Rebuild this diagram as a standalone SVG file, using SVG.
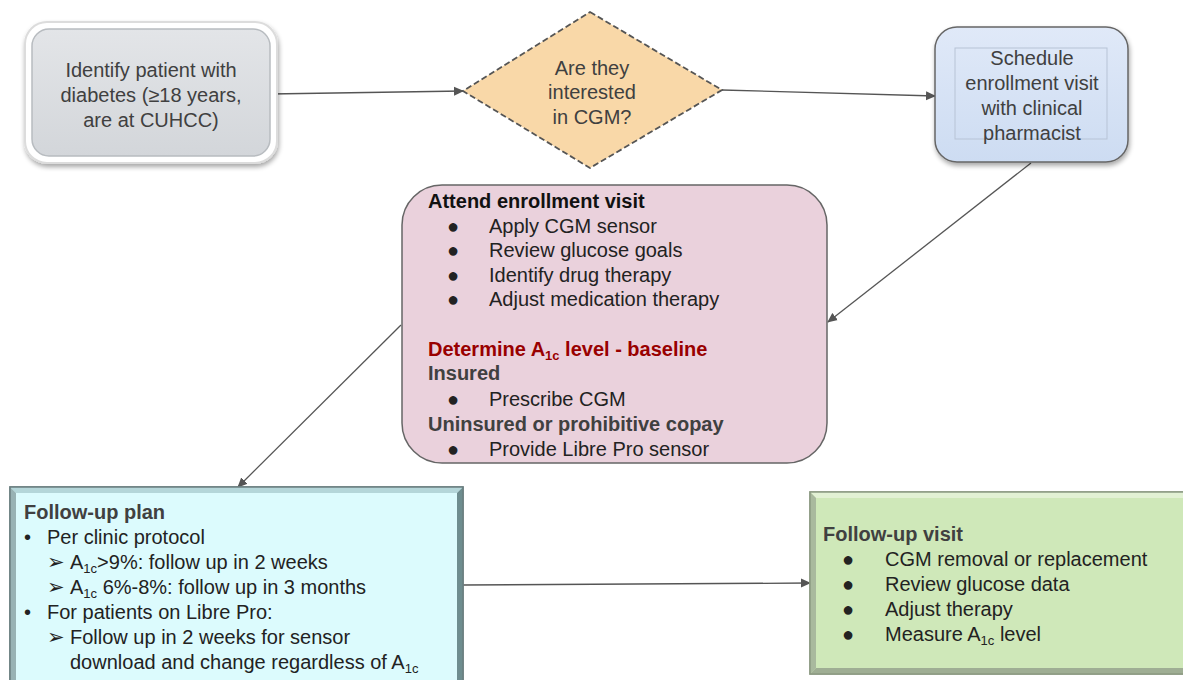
<svg xmlns="http://www.w3.org/2000/svg" width="1183" height="680" viewBox="0 0 1183 680">
<style>
  text { font-family: "Liberation Sans", Arial, "DejaVu Sans", sans-serif; font-size: 20px; fill: #404040; }
  .c { text-anchor: middle; }
  .b { font-weight: bold; }
  .k { fill: #111; }
  .d { fill: #222; }
  .red { fill: #990000; }
  .conn { stroke: #555; stroke-width: 1.3; fill: none; marker-end: url(#ah); }
  .sub { font-size: 13px; }
  .arr { font-size: 21px; }
</style>
<defs>
  <marker id="ah" markerWidth="10" markerHeight="10" refX="9" refY="5" orient="auto" markerUnits="userSpaceOnUse">
    <path d="M0,0.5 L10,5 L0,9.5 Z" fill="#555"/>
  </marker>
  <linearGradient id="gGray" x1="0" y1="0" x2="0" y2="1">
    <stop offset="0" stop-color="#e3e5e8"/>
    <stop offset="1" stop-color="#d3d6da"/>
  </linearGradient>
  <linearGradient id="gBlue" x1="0" y1="0" x2="0" y2="1">
    <stop offset="0" stop-color="#e0e9f8"/>
    <stop offset="1" stop-color="#cddcf2"/>
  </linearGradient>
  <filter id="sh" x="-10%" y="-10%" width="125%" height="130%">
    <feGaussianBlur in="SourceAlpha" stdDeviation="2.5"/>
    <feOffset dx="1" dy="3" result="o"/>
    <feComponentTransfer><feFuncA type="linear" slope="0.35"/></feComponentTransfer>
    <feMerge><feMergeNode/><feMergeNode in="SourceGraphic"/></feMerge>
  </filter>
</defs>
<rect width="1183" height="680" fill="#ffffff"/>

<g id="connectors">
  <line class="conn" x1="270" y1="94" x2="463" y2="91"/>
  <line class="conn" x1="722" y1="90" x2="935" y2="96"/>
  <line class="conn" x1="1031" y1="163" x2="828" y2="322"/>
  <line class="conn" x1="401" y1="325" x2="238" y2="487"/>
  <line class="conn" x1="463" y1="585" x2="810" y2="583"/>
</g>

<g id="node-identify">
  <rect x="25" y="22" width="252" height="141" rx="22" fill="#ffffff" stroke="#dcdcdc" stroke-width="2" filter="url(#sh)"/>
  <rect x="32" y="29" width="238" height="127" rx="17" fill="url(#gGray)" stroke="#b8bcc0" stroke-width="1.5"/>
  <text class="c" x="151" y="77">Identify patient with</text>
  <text class="c" x="151" y="102">diabetes (≥18 years,</text>
  <text class="c" x="151" y="127">are at CUHCC)</text>
</g>

<g id="node-interested">
  <polygon points="590,12 722,90 590,168 463,91" fill="#f9d8a8" stroke="#555" stroke-width="1.8" stroke-dasharray="6,3"/>
  <text class="c" x="592" y="75">Are they</text>
  <text class="c" x="592" y="99">interested</text>
  <text class="c" x="592" y="124">in CGM?</text>
</g>

<g id="node-schedule">
  <rect x="935" y="27" width="193" height="135" rx="22" fill="url(#gBlue)" stroke="#666" stroke-width="1.5" filter="url(#sh)"/>
  <rect x="955" y="48" width="152" height="91" fill="none" stroke="#b7c3d6" stroke-width="1"/>
  <text class="c" x="1032" y="65">Schedule</text>
  <text class="c" x="1032" y="90">enrollment visit</text>
  <text class="c" x="1032" y="115">with clinical</text>
  <text class="c" x="1032" y="140">pharmacist</text>
</g>

<g id="node-enrollment">
  <rect x="402" y="185" width="425" height="278" rx="40" fill="#ead1dc" stroke="#666" stroke-width="1.5"/>
  <text class="b k" x="428" y="208">Attend enrollment visit</text>
  <text class="d" x="447" y="233">●</text><text class="d" x="489" y="233">Apply CGM sensor</text>
  <text class="d" x="447" y="257">●</text><text class="d" x="489" y="257">Review glucose goals</text>
  <text class="d" x="447" y="282">●</text><text class="d" x="489" y="282">Identify drug therapy</text>
  <text class="d" x="447" y="306">●</text><text class="d" x="489" y="306">Adjust medication therapy</text>
  <text class="b red" x="428" y="356">Determine A<tspan class="sub" dy="4">1c</tspan><tspan dy="-4"> level - baseline</tspan></text>
  <text class="b" x="428" y="380" fill="#505050">Insured</text>
  <text class="d" x="447" y="406">●</text><text class="d" x="489" y="406">Prescribe CGM</text>
  <text class="b" x="428" y="431">Uninsured or prohibitive copay</text>
  <text class="d" x="447" y="456">●</text><text class="d" x="489" y="456">Provide Libre Pro sensor</text>
</g>

<g id="node-followup-plan">
  <rect x="10" y="487" width="453" height="200" fill="#dcfbfd" stroke="#6b7f80" stroke-width="1.5"/>
  <polygon points="10,487 463,487 457,493 16,493" fill="#b4d6d9"/>
  <polygon points="10,487 16,493 16,687 10,687" fill="#98b2b4"/>
  <polygon points="463,487 457,493 457,687 463,687" fill="#6e8d8f"/>
  <rect x="10" y="487" width="453" height="200" fill="none" stroke="#6b7f80" stroke-width="1.5"/>
  <text class="b" x="24" y="519">Follow-up plan</text>
  <text class="d" x="24" y="544">•</text><text class="d" x="47" y="544">Per clinic protocol</text>
  <text class="d arr" x="47" y="569">➢</text><text class="d" x="70" y="569">A<tspan class="sub" dy="4">1c</tspan><tspan dy="-4">&gt;9%: follow up in 2 weeks</tspan></text>
  <text class="d arr" x="47" y="594">➢</text><text class="d" x="70" y="594">A<tspan class="sub" dy="4">1c</tspan><tspan dy="-4"> 6%-8%: follow up in 3 months</tspan></text>
  <text class="d" x="24" y="619">•</text><text class="d" x="47" y="619">For patients on Libre Pro:</text>
  <text class="d arr" x="47" y="644">➢</text><text class="d" x="70" y="644">Follow up in 2 weeks for sensor</text>
  <text class="d" x="70" y="669">download and change regardless of A<tspan class="sub" dy="4">1c</tspan></text>
</g>

<g id="node-followup-visit">
  <rect x="810" y="492" width="380" height="182" fill="#cfe8b9" stroke="#8c9a82" stroke-width="1.5"/>
  <polygon points="810,492 1190,492 1184,498 816,498" fill="#e2f1d4"/>
  <polygon points="810,492 816,498 816,668 810,674" fill="#a9b99e"/>
  <polygon points="810,674 816,668 1184,668 1190,674" fill="#9fae94"/>
  <rect x="810" y="492" width="380" height="182" fill="none" stroke="#8c9a82" stroke-width="1.5"/>
  <text class="b" x="823" y="541">Follow-up visit</text>
  <text class="d" x="842" y="566">●</text><text class="d" x="885" y="566">CGM removal or replacement</text>
  <text class="d" x="842" y="591">●</text><text class="d" x="885" y="591">Review glucose data</text>
  <text class="d" x="842" y="616">●</text><text class="d" x="885" y="616">Adjust therapy</text>
  <text class="d" x="842" y="641">●</text><text class="d" x="885" y="641">Measure A<tspan class="sub" dy="4">1c</tspan><tspan dy="-4"> level</tspan></text>
</g>
</svg>
